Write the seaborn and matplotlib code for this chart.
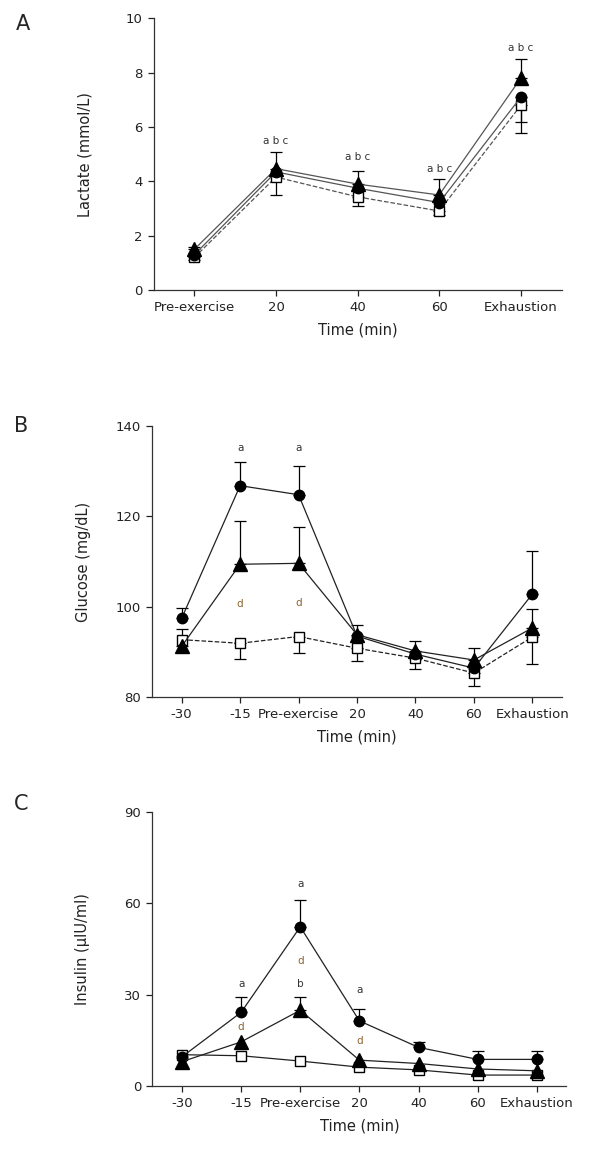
import numpy as np
import pandas as pd
import matplotlib
matplotlib.use('Agg')
import matplotlib.pyplot as plt
import seaborn as sns

# Panel A - lactate
times_A = ['Pre-exercise', '20', '40', '60', 'Exhaustion']
circ_A = [1.3, 4.35, 3.75, 3.22, 7.1]
circ_A_err = [0, 0, 0, 0, 0.9]          # drawn downward
tri_A = [1.5, 4.47, 3.9, 3.5, 7.8]
tri_A_err = [0.1, 0.6, 0.47, 0.58, 0.7]  # drawn upward
sq_A = [1.2, 4.16, 3.43, 2.91, 6.8]
sq_A_err = [0.1, 0.67, 0.35, 0.16, 1.0]  # drawn downward

# Panel B - glucose
times_B = ['-30', '-15', 'Pre-exercise', '20', '40', '60', 'Exhaustion']
circ_B = [97.4, 126.8, 124.8, 93.5, 89.5, 86.4, 102.8]
circ_B_err = [2.4, 5.2, 6.4, 0, 0, 0, 9.5]
tri_B = [91.2, 109.4, 109.6, 93.8, 90.2, 88.2, 95.3]
tri_B_err = [3.8, 9.6, 8.1, 2.2, 2.3, 2.6, 4.3]
sq_B = [92.7, 91.9, 93.4, 90.8, 88.6, 85.3, 93.3]
sq_B_err = [0, 3.5, 3.7, 2.8, 2.3, 2.8, 5.9]

# Panel C - insulin
times_C = ['-30', '-15', 'Pre-exercise', '20', '40', '60', 'Exhaustion']
circ_C = [9.6, 24.2, 52.3, 21.4, 12.7, 8.75, 8.75]
circ_C_err = [0, 5.0, 8.9, 3.8, 1.8, 2.6, 2.6]
tri_C = [8.0, 14.5, 24.9, 8.5, 7.4, 5.6, 5.0]
tri_C_err = [0, 0, 4.2, 0, 0, 0, 0]
sq_C = [10.3, 9.95, 8.2, 6.2, 5.3, 3.6, 3.6]
sq_C_err = [0, 0, 0, 0, 0, 0, 0]

# significance letters: (time index, y, text, colour key)
notes_A = [(1, 5.48, 'a b c', 'k'), (2, 4.9, 'a b c', 'k'),
           (3, 4.47, 'a b c', 'k'), (4, 8.92, 'a b c', 'k')]
notes_B = [(1, 135.2, 'a', 'k'), (2, 135.2, 'a', 'k'),
           (1, 100.6, 'd', 'd'), (2, 100.8, 'd', 'd')]
notes_C = [(1, 33.4, 'a', 'k'), (1, 19.5, 'd', 'd'), (2, 66.3, 'a', 'k'),
           (2, 41.0, 'd', 'd'), (2, 33.4, 'b', 'k'), (3, 31.7, 'a', 'k'),
           (3, 14.9, 'd', 'd')]

sns.set_style('ticks')
plt.rcParams['font.family'] = ['DejaVu Sans']

note_colors = {'k': '#333333', 'd': '#8a6530'}

fig = plt.figure(figsize=(6, 11.54), dpi=100)


def draw_panel(ax, times, series, notes, ylim, yticks, ylabel, line_color):
    x = np.arange(len(times))
    for vals, err, marker, ms, face, up, ls in series:
        df = pd.DataFrame({'t': x, 'v': vals})
        sns.lineplot(data=df, x='t', y='v', ax=ax, color=line_color, lw=0.9,
                     linestyle=ls, marker=marker, markersize=ms,
                     markerfacecolor=face, markeredgecolor='black',
                     markeredgewidth=1.0, zorder=3)
        err = np.array(err, dtype=float)
        m = err > 0
        if m.any():
            yerr = [np.zeros(m.sum()), err[m]] if up else [err[m], np.zeros(m.sum())]
            ax.errorbar(x[m], np.array(vals)[m], yerr=yerr, fmt='none',
                        ecolor='black', elinewidth=0.9, capsize=4.5,
                        capthick=0.9, zorder=2)
    for i, y, txt, c in notes:
        ax.text(i, y, txt, ha='center', va='center', fontsize=7.5,
                color=note_colors[c])
    ax.set_xlim(-0.5, len(times) - 0.5)
    ax.set_ylim(*ylim)
    ax.set_yticks(yticks)
    ax.set_xticks(x)
    ax.set_xticklabels(times)
    ax.set_xlabel('Time (min)', fontsize=10.5, labelpad=6, color='#222222')
    ax.set_ylabel(ylabel, fontsize=10.5, color='#222222')
    ax.yaxis.set_label_coords(-0.15, 0.5)
    ax.tick_params(labelsize=9.5, length=4.5, width=0.9, colors='#222222')
    sns.despine(ax=ax)
    for s in ['left', 'bottom']:
        ax.spines[s].set_linewidth(0.9)
        ax.spines[s].set_color('#333333')


axA = fig.add_axes([0.256, 0.7487, 0.68, 0.2353])
draw_panel(axA, times_A,
           [(sq_A, sq_A_err, 's', 7.2, 'white', False, '--'),
            (circ_A, circ_A_err, 'o', 7.5, 'black', False, '-'),
            (tri_A, tri_A_err, '^', 10, 'black', True, '-')],
           notes_A, (0, 10), [0, 2, 4, 6, 8, 10], 'Lactate (mmol/L)', '#555555')

axB = fig.add_axes([0.254, 0.396, 0.682, 0.2348])
draw_panel(axB, times_B,
           [(sq_B, sq_B_err, 's', 7.2, 'white', False, '--'),
            (circ_B, circ_B_err, 'o', 7.5, 'black', True, '-'),
            (tri_B, tri_B_err, '^', 10, 'black', True, '-')],
           notes_B, (80, 140), [80, 100, 120, 140], 'Glucose (mg/dL)', '#222222')

axC = fig.add_axes([0.254, 0.0589, 0.69, 0.2374])
draw_panel(axC, times_C,
           [(sq_C, sq_C_err, 's', 7.2, 'white', False, '-'),
            (circ_C, circ_C_err, 'o', 7.5, 'black', True, '-'),
            (tri_C, tri_C_err, '^', 10, 'black', True, '-')],
           notes_C, (0, 90), [0, 30, 60, 90], 'Insulin (\u00b5IU/ml)', '#222222')

fig.text(0.027, 0.9788, 'A', fontsize=15, va='center', ha='left')
fig.text(0.0225, 0.6308, 'B', fontsize=15, va='center', ha='left')
fig.text(0.0225, 0.3029, 'C', fontsize=15, va='center', ha='left')

fig.savefig('out.png', dpi=100)
